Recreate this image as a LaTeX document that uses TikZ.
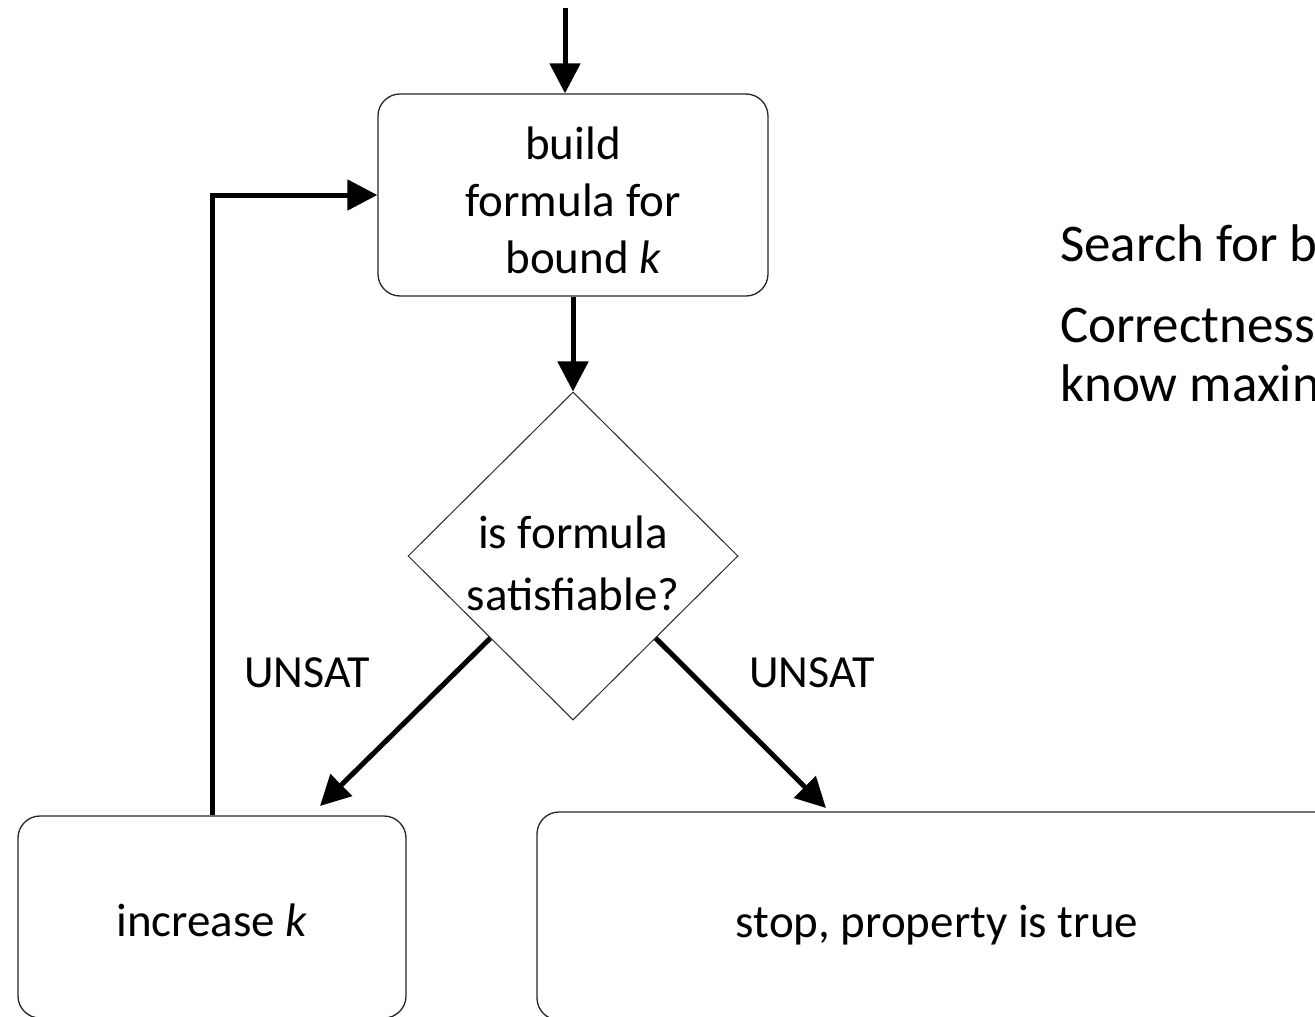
\documentclass[tikz,border=0pt]{standalone}
\usepackage{fontspec}
\setmainfont{Carlito}
\usetikzlibrary{arrows.meta,shapes.geometric}
\begin{document}
\begin{tikzpicture}[x=1pt,y=-1pt,
  box/.style={draw=black!85, line width=1.3pt, rounded corners=22pt, inner sep=0pt},
  decision/.style={draw=black!85, line width=1pt, diamond, inner sep=0pt},
  arr/.style={line width=5pt, -{Triangle[length=30pt,width=30pt]}},
  boxtext/.style={font=\fontsize{47}{57}\selectfont, align=center, inner sep=0pt},
  edgelabel/.style={font=\fontsize{46}{55}\selectfont, inner sep=0pt},
  sidetext/.style={font=\fontsize{53}{58}\selectfont, anchor=west, inner sep=0pt}]
\useasboundingbox (0,0) rectangle (1315,1017);

% process boxes and the decision
\node[box, minimum width=390pt, minimum height=202pt] (build) at (573,195) {};
\node[boxtext] (buildtxt) at (573,200) {build\\formula for\\\hspace*{0.45em}bound \textit{k}};

\node[decision, minimum width=330pt, minimum height=328pt] (sat) at (573,556) {};
\node[boxtext, font=\fontsize{47}{62}\selectfont] (sattxt) at (573,563) {is formula\\satisfiable?};

\node[box, minimum width=388pt, minimum height=202pt] (inc) at (212,917) {};
\node[boxtext] (inctxt) at (212,920) {increase \textit{k}};

\node[box, minimum width=800pt, minimum height=208pt] (stop) at (937,916) {};
\node[boxtext] (stoptxt) at (937,925) {stop, property is true};

% connectors
\coordinate (entry) at (565,8);
\coordinate (incin) at (320,806);
\coordinate (stopin) at (826,808);
\draw[arr] (entry) -- (entry |- build.north);
\draw[arr] (build) -- (sat);
\draw[arr] (sat.south west) -- (incin);
\draw[arr] (sat.south east) -- (stopin);
\draw[arr] (inc.north) |- (build.west);

% branch labels
\node[edgelabel] (lblleft) at (307,673) {UNSAT};
\node[edgelabel] (lblright) at (812,673) {UNSAT};

% notes on the right
\node[sidetext] (note1) at (1060,243) {Search for b};
\node[sidetext] (note2) at (1060,325) {Correctness};
\node[sidetext] (note3) at (1060,383) {know maxin};
\end{tikzpicture}
\end{document}
